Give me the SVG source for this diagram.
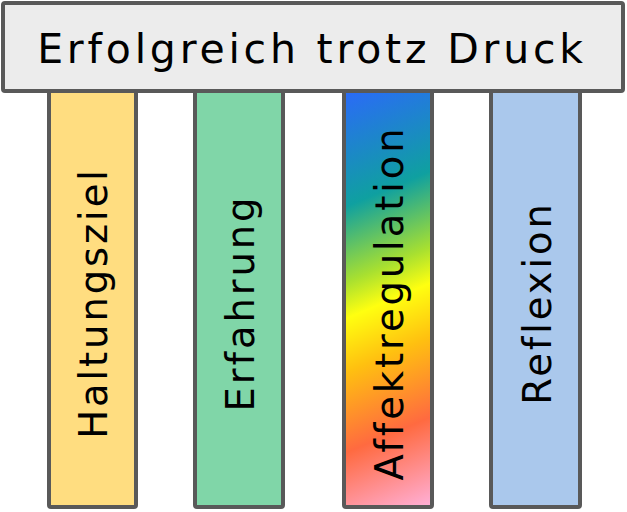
<svg xmlns="http://www.w3.org/2000/svg" width="627" height="512" viewBox="0 0 627 512">
<defs>
<linearGradient id="affekt" gradientUnits="userSpaceOnUse" x1="310" y1="110" x2="470" y2="490">
<stop offset="0" stop-color="#2a6cf5"/>
<stop offset="0.25" stop-color="#0fa0a0"/>
<stop offset="0.42" stop-color="#a8e030"/>
<stop offset="0.5" stop-color="#ffff10"/>
<stop offset="0.62" stop-color="#ffc010"/>
<stop offset="0.8" stop-color="#ff6a40"/>
<stop offset="1" stop-color="#ffb0d8"/>
</linearGradient>
<style>
.box{stroke:#595959;stroke-width:4}
.lbl{font-family:"DejaVu Sans",Verdana,sans-serif;fill:#000}
.v{font-size:38.5px;letter-spacing:2.9px;text-anchor:middle}
</style>
</defs>
<g id="pillar-haltungsziel">
<rect class="box" x="49" y="80" width="87" height="427" rx="2" fill="#ffdd80"/>
<text class="lbl v" transform="translate(107,303) rotate(-90)">Haltungsziel</text>
</g>
<g id="pillar-erfahrung">
<rect class="box" x="195" y="80" width="88" height="427" rx="2" fill="#80d6a8"/>
<text class="lbl v" transform="translate(254,303) rotate(-90)">Erfahrung</text>
</g>
<g id="pillar-affektregulation">
<rect class="box" x="344" y="80" width="88" height="427" rx="2" fill="url(#affekt)"/>
<text class="lbl v" transform="translate(403,303) rotate(-90)">Affektregulation</text>
</g>
<g id="pillar-reflexion">
<rect class="box" x="491" y="80" width="89" height="427" rx="2" fill="#aac8ec"/>
<text class="lbl v" transform="translate(551,303) rotate(-90)">Reflexion</text>
</g>
<g id="title">
<rect class="box" x="3" y="3" width="620" height="88" rx="2" fill="#ececec"/>
<text class="lbl" x="312" y="62.7" font-size="41" letter-spacing="3.8" text-anchor="middle">Erfolgreich trotz Druck</text>
</g>
<g id="connectors"/>
</svg>
